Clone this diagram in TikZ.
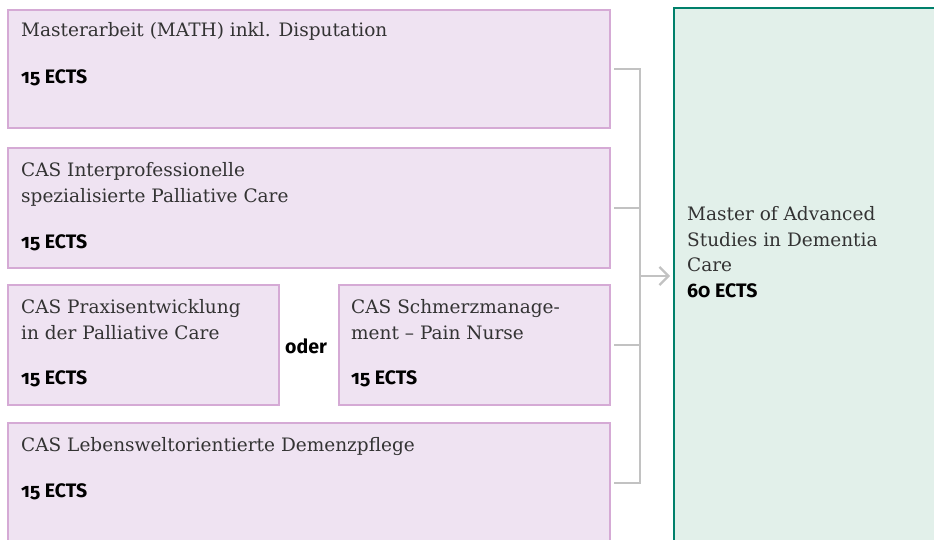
\documentclass[tikz,border=0pt]{standalone}
\usepackage{fontspec}
\newfontfamily\ttlfont{DejaVu Serif}
\newfontfamily\ectsfont[Numbers=OldStyle]{Fira Sans}
\usetikzlibrary{arrows.meta}

\definecolor{lilafill}{HTML}{EFE3F2}
\definecolor{lilaline}{HTML}{D5AAD5}
\definecolor{gruenfill}{HTML}{E2F0EA}
\definecolor{gruenline}{HTML}{00806B}
\definecolor{verbgrau}{HTML}{C2C2C2}
\definecolor{textgrau}{HTML}{333333}

\begin{document}
\begin{tikzpicture}[x=1pt,y=-1pt,
    pbox/.style={draw=lilaline, fill=lilafill, line width=2.2pt, anchor=north west,
        minimum width=602pt, minimum height=120pt, inner sep=0pt},
    gbox/.style={draw=gruenline, fill=gruenfill, line width=2.2pt, anchor=north west,
        minimum width=300pt, minimum height=560pt, inner sep=0pt},
    ttl/.style={anchor=base west, inner sep=0pt, align=left, text=textgrau,
        font=\ttlfont\fontsize{18.5}{25.5}\selectfont},
    ects/.style={anchor=base west, inner sep=0pt,
        font=\ectsfont\bfseries\fontsize{19.5}{25.5}\selectfont},
    conn/.style={draw=verbgrau, line width=2.2pt}]
    \useasboundingbox (0,0) rectangle (934,540);
    \clip (0,0) rectangle (934,540);

    % Module
    \node[pbox, minimum height=118pt] (math) at (7,9) {};
    \node[pbox] (palli) at (7,147) {};
    \node[pbox, minimum width=271pt] (praxis) at (7,284) {};
    \node[pbox, minimum width=271pt] (schmerz) at (338,284) {};
    \node[pbox] (demenz) at (7,422) {};

    % Abschluss
    \node[gbox] (mas) at (673,7) {};

    % Texte (Basislinie der letzten Zeile)
    \node[ttl] (mathT) at (21,37) {Masterarbeit (MATH) inkl. Disputation};
    \node[ects] (mathE) at (21,84) {15 ECTS};
    \node[ttl] (palliT) at (21,202.5) {CAS Interprofessionelle\\spezialisierte Palliative Care};
    \node[ects] (palliE) at (21,248) {15 ECTS};
    \node[ttl] (praxisT) at (21,339) {CAS Praxisentwicklung\\in der Palliative Care};
    \node[ects] (praxisE) at (21,384) {15 ECTS};
    \node[ttl] (schmerzT) at (351,339) {CAS Schmerzmanage-\\ment – Pain Nurse};
    \node[ects] (schmerzE) at (351,384) {15 ECTS};
    \node[ttl] (demenzT) at (21,451) {CAS Lebensweltorientierte Demenzpflege};
    \node[ects] (demenzE) at (21,497) {15 ECTS};
    \node[ects, anchor=center] (oder) at (306,346) {oder};
    \node[ttl] (masT) at (687,297) {Master of Advanced\\Studies in Dementia\\Care\\{\ectsfont\bfseries\fontsize{19.5}{25.5}\selectfont\color{black}60 ECTS}};

    % Verbindungen
    \coordinate (bus) at (640,0);
    \coordinate (pfeil) at (640,276);
    \draw[conn] ([xshift=3pt]math.east) -- (math.east -| bus) -- (demenz.east -| bus)
        -- ([xshift=3pt]demenz.east);
    \draw[conn] ([xshift=3pt]palli.east) -- (palli.east -| bus);
    \draw[conn] ([xshift=3pt]schmerz.east) -- (schmerz.east -| bus);
    \draw[conn, -{Straight Barb[length=9pt,width=18pt]}, shorten >=3pt]
        (pfeil) -- (pfeil -| mas.west);
\end{tikzpicture}
\end{document}
